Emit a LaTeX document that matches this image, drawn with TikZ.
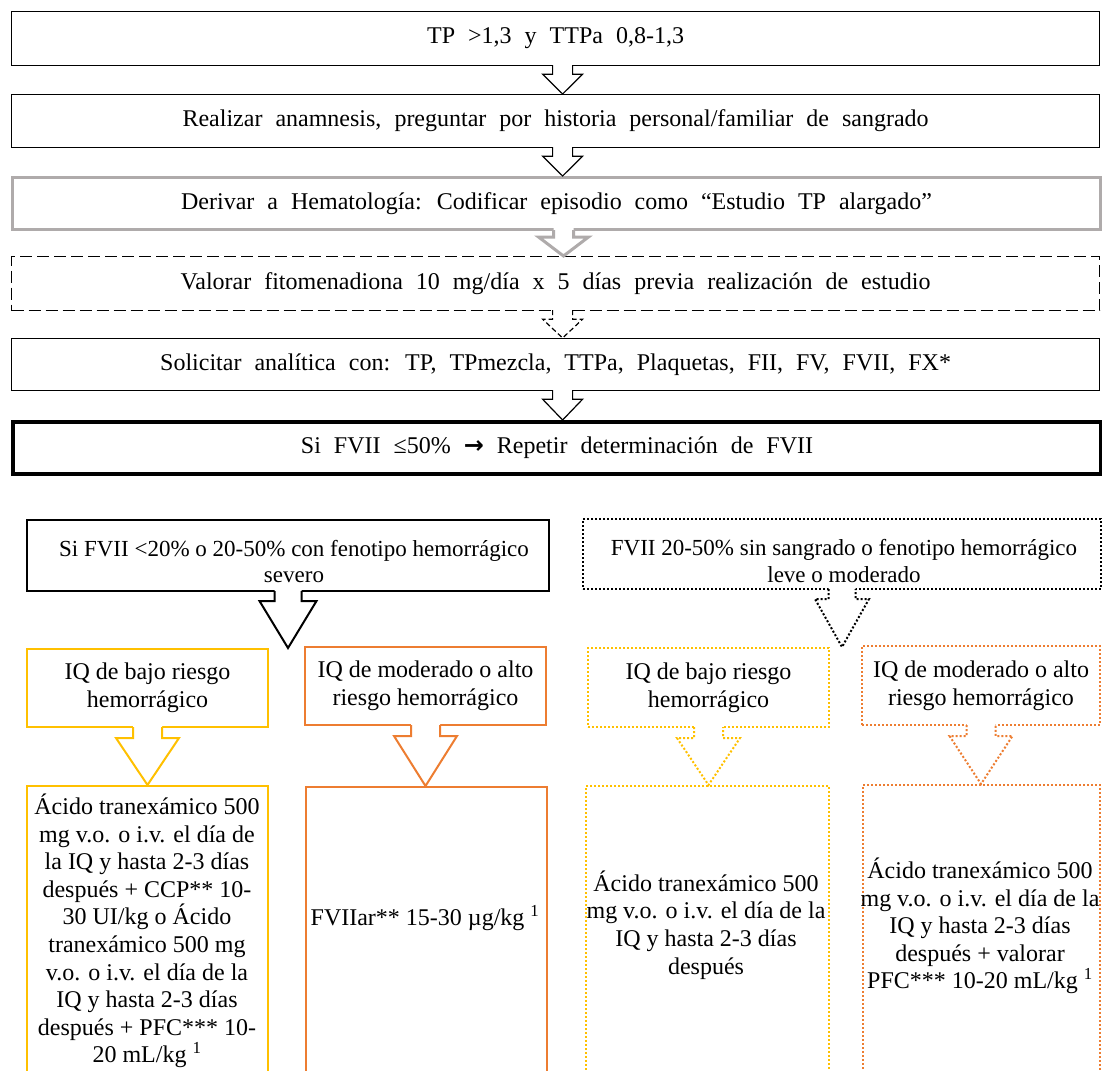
\documentclass[tikz,border=0pt]{standalone}
\usepackage{fontspec}
\setmainfont{Liberation Serif}
\newfontfamily\symfont{DejaVu Sans}
\usetikzlibrary{calc}
\definecolor{cyel}{HTML}{FFC000}
\definecolor{cora}{HTML}{ED7D31}
\definecolor{cgry}{HTML}{AFABAB}
\newcommand\bigtxt{\fontsize{24}{27.6}\selectfont}
\newcommand\midtxt{\fontsize{23}{26.5}\selectfont}
\newcommand\widetxt{\fontsize{24}{27.6}\selectfont\spaceskip=13pt plus 2pt\relax}
% block arrow: #1 style, #2 from node, #3 to node, #4 dx, #5 shaft half width, #6 head half width, #7 shaft length
\newcommand\barrow[7]{%
  \path let \p1=($(#2.south)+(#4,0)$), \p2=(#3.north) in
    [fill=white] (\x1-#5pt,\y1+5pt) -- (\x1-#5pt,\y1-#7pt) -- (\x1-#6pt,\y1-#7pt) -- (\x1,\y2)
      -- (\x1+#6pt,\y1-#7pt) -- (\x1+#5pt,\y1-#7pt) -- (\x1+#5pt,\y1+5pt) -- cycle;
  \draw[#1] let \p1=($(#2.south)+(#4,0)$), \p2=(#3.north) in
    (\x1-#5pt,\y1+1pt) -- (\x1-#5pt,\y1-#7pt) -- (\x1-#6pt,\y1-#7pt) -- (\x1,\y2)
      -- (\x1+#6pt,\y1-#7pt) -- (\x1+#5pt,\y1-#7pt) -- (\x1+#5pt,\y1+1pt);
}
\tikzset{
  box/.style={draw, rectangle, inner sep=0pt, anchor=north west, align=center, font=\bigtxt},
  wide/.style={box, minimum width=1088pt, font=\widetxt},
  plain/.style={line width=1.2pt},
  grayline/.style={line width=3pt, draw=cgry},
  dashline/.style={line width=1.2pt, dash pattern=on 12pt off 5pt},
  heavy/.style={line width=4pt},
  blk/.style={line width=2pt},
  dotblk/.style={line width=2pt, dash pattern=on 2pt off 2pt},
  yel/.style={line width=2pt, draw=cyel},
  ora/.style={line width=2pt, draw=cora},
  dotyel/.style={line width=2pt, draw=cyel, dash pattern=on 2pt off 2pt},
  dotora/.style={line width=2pt, draw=cora, dash pattern=on 2pt off 2pt},
  txt/.style={align=center, inner sep=0pt, font=\bigtxt},
  midt/.style={align=center, inner sep=0pt, font=\midtxt},
}
\begin{document}
\begin{tikzpicture}[x=1pt,y=-1pt]
\useasboundingbox (0,0) rectangle (1102,1070);
\clip (0,0) rectangle (1102,1070);
% top column
\node[wide, plain, minimum height=54pt] (n1) at (11,11) {TP >1,3 y TTPa 0,8-1,3};
\node[wide, plain, minimum height=53pt] (n2) at (11,94) {Realizar anamnesis, preguntar por historia personal/familiar de sangrado};
\node[wide, grayline, minimum height=52pt] (n3) at (11,176) {Derivar a Hematología: Codificar episodio como “Estudio TP alargado”};
\node[wide, dashline, minimum height=54pt] (n4) at (11,256) {Valorar fitomenadiona 10 mg/día x 5 días previa realización de estudio};
\node[wide, plain, minimum height=52pt] (n5) at (11,338) {Solicitar analítica con: TP, TPmezcla, TTPa, Plaquetas, FII, FV, FVII, FX*};
\node[wide, heavy, minimum height=52pt] (n6) at (11,420) {Si FVII ≤50\% {\symfont\bfseries →} Repetir determinación de FVII};
% second level
\node[box, blk, minimum width=522pt, minimum height=71pt] (a1) at (26,519) {};
\node[midt] (ta1) at ($(a1.center)+(6,6)$) {Si FVII <20\% o 20-50\% con fenotipo hemorrágico\\ severo};
\node[box, dotblk, minimum width=518pt, minimum height=70pt] (b1) at (582,518) {};
\node[midt] (tb1) at ($(b1.center)+(2,7)$) {FVII 20-50\% sin sangrado o fenotipo hemorrágico\\ leve o moderado};
% third level
\node[box, yel, minimum width=241pt, minimum height=78pt] (a2) at (26,648) {IQ de bajo riesgo\\ hemorrágico};
\node[box, ora, minimum width=241pt, minimum height=78pt] (a3) at (304,646) {IQ de moderado o alto\\ riesgo hemorrágico};
\node[box, dotyel, minimum width=241pt, minimum height=79pt] (b2) at (587,647) {IQ de bajo riesgo\\ hemorrágico};
\node[box, dotora, minimum width=238pt, minimum height=79pt] (b3) at (861,645) {IQ de moderado o alto\\ riesgo hemorrágico};
% bottom boxes
\node[box, yel, minimum width=241pt, minimum height=300pt] (a4) at (26,785) {};
\node[box, ora, minimum width=241pt, minimum height=300pt] (a5) at (305,786) {};
\node[box, dotyel, minimum width=243pt, minimum height=300pt] (b4) at (585,785) {};
\node[box, dotora, minimum width=237pt, minimum height=300pt] (b5) at (862,784) {};
\node[txt] (ta4) at (147,931) {Ácido tranexámico 500\\ mg v.o. o i.v. el día de\\ la IQ y hasta 2-3 días\\ después + CCP** 10-\\ 30 UI/kg o Ácido\\ tranexámico 500 mg\\ v.o. o i.v. el día de la\\ IQ y hasta 2-3 días\\ después + PFC*** 10-\\ 20 mL/kg \textsuperscript{1}};
\node[txt] (ta5) at (425,918) {FVIIar** 15-30 µg/kg \textsuperscript{1}};
\node[txt] (tb4) at (706,925) {Ácido tranexámico 500\\ mg v.o. o i.v. el día de la\\ IQ y hasta 2-3 días\\ después};
\node[txt] (tb5) at (980,926) {Ácido tranexámico 500\\ mg v.o. o i.v. el día de la\\ IQ y hasta 2-3 días\\ después + valorar\\ PFC*** 10-20 mL/kg \textsuperscript{1}};
% arrows
\barrow{plain}{n1}{n2}{7}{10}{20}{8}
\barrow{plain}{n2}{n3}{7}{10}{20}{8}
\barrow{grayline}{n3}{n4}{7}{10}{25}{6}
\barrow{dashline, dash pattern=on 5pt off 3pt}{n4}{n5}{7}{10}{20}{8}
\barrow{plain}{n5}{n6}{7}{10}{20}{8}
\barrow{blk}{a1}{a2.north -| a1}{0}{13.5}{28.5}{9}
\barrow{dotblk}{b1}{b2.north -| b1}{0}{13.5}{27}{9}
\barrow{yel}{a2}{a4}{0}{14.5}{31.5}{10}
\barrow{ora}{a3}{a5}{0}{14.5}{31.5}{10}
\barrow{dotyel}{b2}{b4}{0}{14.5}{31.5}{10}
\barrow{dotora}{b3}{b5}{0}{14.5}{31.5}{10}
\end{tikzpicture}
\end{document}
